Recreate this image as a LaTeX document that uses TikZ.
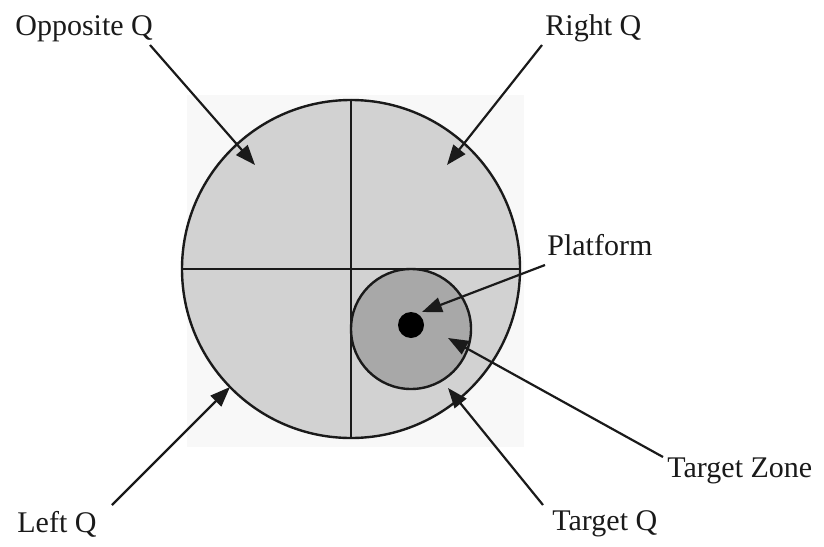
\documentclass[tikz,border=0pt]{standalone}
\usepackage{fontspec}
\setmainfont{Liberation Serif}
\usetikzlibrary{arrows.meta}
\definecolor{bgsq}{HTML}{F8F8F8}
\definecolor{bigfill}{HTML}{D2D2D2}
\definecolor{zonefill}{HTML}{A8A8A8}
\definecolor{ink}{HTML}{1A1A1A}
\tikzset{
  lbl/.style={anchor=base west, inner sep=0pt, font=\fontsize{15}{18}\selectfont, text=ink},
  pointer/.style={draw=ink, line width=1.1pt, -{Triangle[length=10pt,width=7.5pt]}},
  outline/.style={draw=ink, line width=1.2pt}
}
\begin{document}
\begin{tikzpicture}[x=0.5pt,y=-0.5pt]
\useasboundingbox (0,0) rectangle (824,546);
% faint background square
\fill[bgsq] (187,95) rectangle (524,447);
% pool
\node[circle, outline, fill=bigfill, minimum size=338*0.5pt, inner sep=0pt] (pool) at (351,269) {};
\draw[outline] (pool.west) -- (pool.east);
\draw[outline] (pool.north) -- (pool.south);
% target zone
\node[circle, outline, fill=zonefill, minimum size=120*0.5pt, inner sep=0pt] (zone) at (411,329) {};
% platform
\node[circle, fill=black, minimum size=26*0.5pt, inner sep=0pt] (plat) at (411,325) {};
% labels
\node[lbl] (oppL) at (15,35) {Opposite Q};
\node[lbl] (rightL) at (545,35) {Right Q};
\node[lbl] (platL) at (547,255) {Platform};
\node[lbl] (zoneL) at (667,477) {Target Zone};
\node[lbl] (tqL) at (552,530) {Target Q};
\node[lbl] (leftL) at (17,532) {Left Q};
% arrow ends
\coordinate (oppS) at (150,45);   \coordinate (oppT) at (255,165);
\coordinate (rightS) at (542,45); \coordinate (rightT) at (447,165);
\coordinate (platS) at (545,265); \coordinate (platT) at (422,312);
\coordinate (zoneS) at (663,457); \coordinate (zoneT) at (448,338);
\coordinate (tqS) at (543,505);   \coordinate (tqT) at (448,388);
\coordinate (leftS) at (112,505); \coordinate (leftT) at (230,387);
\draw[pointer] (oppS) -- (oppT);
\draw[pointer] (rightS) -- (rightT);
\draw[pointer] (platS) -- (platT);
\draw[pointer] (zoneS) -- (zoneT);
\draw[pointer] (tqS) -- (tqT);
\draw[pointer] (leftS) -- (leftT);
\end{tikzpicture}
\end{document}
